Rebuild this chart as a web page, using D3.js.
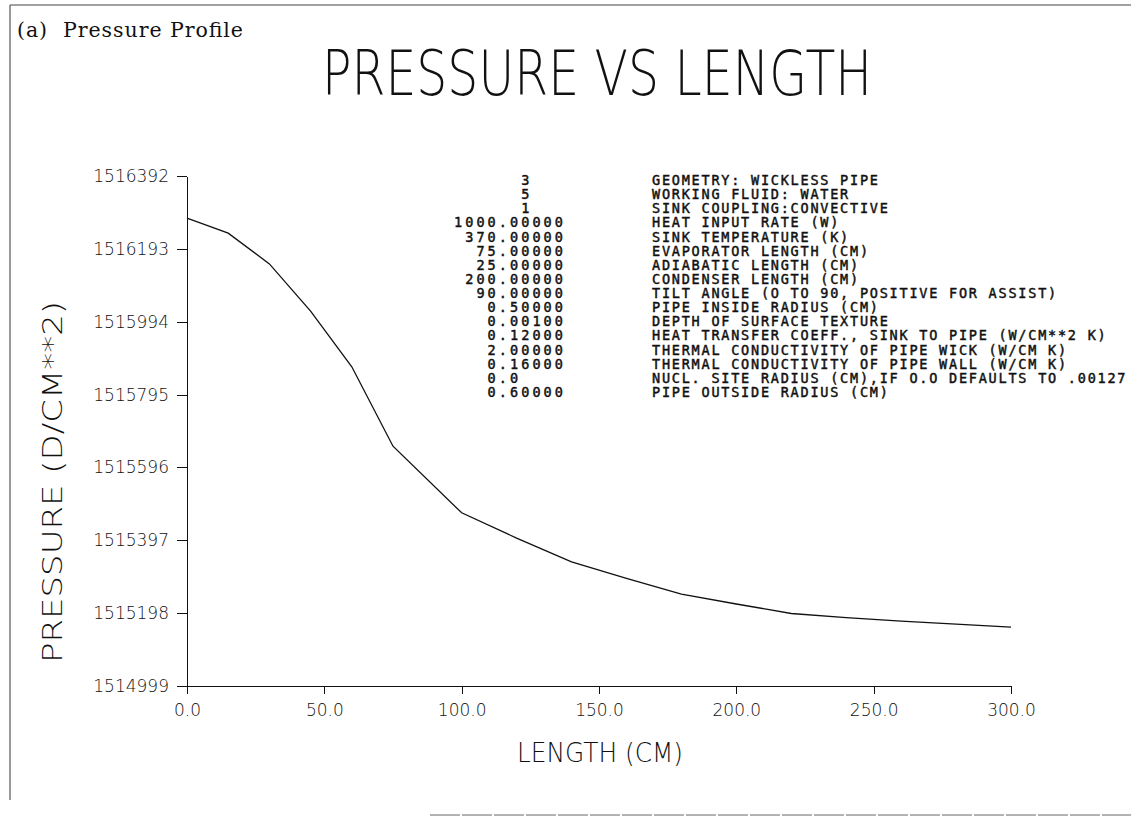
<!DOCTYPE html>
<html lang="en">
<head>
  <meta charset="utf-8" />
  <title>Pressure vs Length</title>
  <script src="https://d3js.org/d3.v7.min.js"></script>
  <style>
    body { margin: 0; background: #fff; }
    .thin { font-family: "DejaVu Sans", sans-serif; font-weight: 200; fill: #111; }
    .mono { font-family: "DejaVu Sans Mono", monospace; font-size: 13.5px; fill: #111; stroke: #111; stroke-width: 0.45px; white-space: pre; }
    .axis path, .axis line { stroke: #111; shape-rendering: crispEdges; }
    .axis text { font-family: "DejaVu Sans", sans-serif; font-weight: 200; font-size: 17px; fill: #111; }
  </style>
</head>
<body>
<svg width="1131" height="825"></svg>
<script>

// curve
var lengthCm = [0, 15, 30, 45, 60, 75, 100, 120, 140, 160, 180, 200, 220, 240, 260, 280, 300];
var pressure = [1516277, 1516236, 1516152, 1516023, 1515871, 1515654, 1515472, 1515403,
                1515338, 1515293, 1515250, 1515223, 1515197, 1515186, 1515176, 1515168, 1515160];

var yTicks = [1514999, 1515198, 1515397, 1515596, 1515795, 1515994, 1516193, 1516392];
var xTicks = [0, 50, 100, 150, 200, 250, 300];

// input listing printed next to the plot
var paramValues = ["3", "5", "1", "1000.00000", "370.00000", "75.00000", "25.00000", "200.00000",
                   "90.00000", "0.50000", "0.00100", "0.12000", "2.00000", "0.16000", "0.0", "0.60000"];
var paramLabels = ["GEOMETRY: WICKLESS PIPE", "WORKING FLUID: WATER", "SINK COUPLING:CONVECTIVE",
                   "HEAT INPUT RATE (W)", "SINK TEMPERATURE (K)", "EVAPORATOR LENGTH (CM)",
                   "ADIABATIC LENGTH (CM)", "CONDENSER LENGTH (CM)", "TILT ANGLE (O TO 90, POSITIVE FOR ASSIST)",
                   "PIPE INSIDE RADIUS (CM)", "DEPTH OF SURFACE TEXTURE", "HEAT TRANSFER COEFF., SINK TO PIPE (W/CM**2 K)",
                   "THERMAL CONDUCTIVITY OF PIPE WICK (W/CM K)", "THERMAL CONDUCTIVITY OF PIPE WALL (W/CM K)",
                   "NUCL. SITE RADIUS (CM),IF O.O DEFAULTS TO .00127", "PIPE OUTSIDE RADIUS (CM)"];

var svg = d3.select("svg");

var x = d3.scaleLinear().domain([0, 300]).range([187, 1011]);
var y = d3.scaleLinear().domain([1514999, 1516392]).range([686, 176]);

// scanned page edges
svg.append("line").attr("x1", 10).attr("y1", 5).attr("x2", 1131).attr("y2", 5)
  .attr("stroke", "#444").attr("stroke-width", 1);
svg.append("line").attr("x1", 10).attr("y1", 5).attr("x2", 10).attr("y2", 800)
  .attr("stroke", "#555").attr("stroke-width", 1.2);
svg.append("line").attr("x1", 430).attr("y1", 815).attr("x2", 1131).attr("y2", 815)
  .attr("stroke", "#666").attr("stroke-width", 1).attr("stroke-dasharray", "30,2");

svg.append("text")
  .attr("x", 17).attr("y", 37)
  .attr("font-family", "DejaVu Serif, serif")
  .attr("font-size", 20.5)
  .attr("fill", "#111")
  .attr("textLength", 226)
  .attr("lengthAdjust", "spacing")
  .attr("xml:space", "preserve")
  .style("white-space", "pre")
  .text("(a)  Pressure Profile");

svg.append("text")
  .attr("class", "thin")
  .attr("x", 322).attr("y", 95)
  .attr("font-size", 62)
  .attr("textLength", 550)
  .attr("lengthAdjust", "spacingAndGlyphs")
  .text("PRESSURE VS LENGTH");

svg.append("g")
  .attr("class", "axis")
  .attr("transform", "translate(" + x(0) + ",0)")
  .call(d3.axisLeft(y).tickValues(yTicks).tickSize(10).tickSizeOuter(0).tickPadding(8).tickFormat(d3.format("d")));

svg.append("g")
  .attr("class", "axis")
  .attr("transform", "translate(0," + y(1514999) + ")")
  .call(d3.axisBottom(x).tickValues(xTicks).tickSize(8).tickSizeOuter(0).tickPadding(10).tickFormat(d3.format(".1f")));

svg.append("text")
  .attr("class", "thin")
  .attr("transform", "translate(62,482) rotate(-90)")
  .attr("text-anchor", "middle")
  .attr("font-size", 27)
  .attr("textLength", 362)
  .attr("lengthAdjust", "spacingAndGlyphs")
  .text("PRESSURE (D/CM**2)");

svg.append("text")
  .attr("class", "thin")
  .attr("x", 600).attr("y", 762)
  .attr("text-anchor", "middle")
  .attr("font-size", 27)
  .attr("textLength", 166)
  .attr("lengthAdjust", "spacingAndGlyphs")
  .text("LENGTH (CM)");

var line = d3.line()
  .x(function(d, i) { return x(lengthCm[i]); })
  .y(function(d) { return y(d); });

svg.append("path")
  .datum(pressure)
  .attr("fill", "none")
  .attr("stroke", "#111")
  .attr("stroke-width", 1.3)
  .attr("d", line);

// listing: one row per input, values lined up on the decimal point
var row = d3.scalePoint().domain(d3.range(paramLabels.length)).range([185, 397]);
var valPitch = 11.2, labelPitch = 9.9;
var pointX = 566 - 6 * valPitch;

function valueX(v) {
  var k = v.indexOf(".");
  if (k < 0) return pointX + 3 * valPitch - v.length * valPitch;
  return pointX - k * valPitch;
}

svg.append("g").selectAll("text")
  .data(paramValues)
  .enter()
  .append("text")
  .attr("class", "mono")
  .attr("x", function(d) { return valueX(d); })
  .attr("y", function(d, i) { return row(i); })
  .attr("letter-spacing", (valPitch - 13.5 * 0.602) + "px")
  .text(function(d) { return d; });

svg.append("g").selectAll("text")
  .data(paramLabels)
  .enter()
  .append("text")
  .attr("class", "mono")
  .attr("x", 652)
  .attr("y", function(d, i) { return row(i); })
  .attr("letter-spacing", (labelPitch - 13.5 * 0.602) + "px")
  .text(function(d) { return d; });

</script>
</body>
</html>
